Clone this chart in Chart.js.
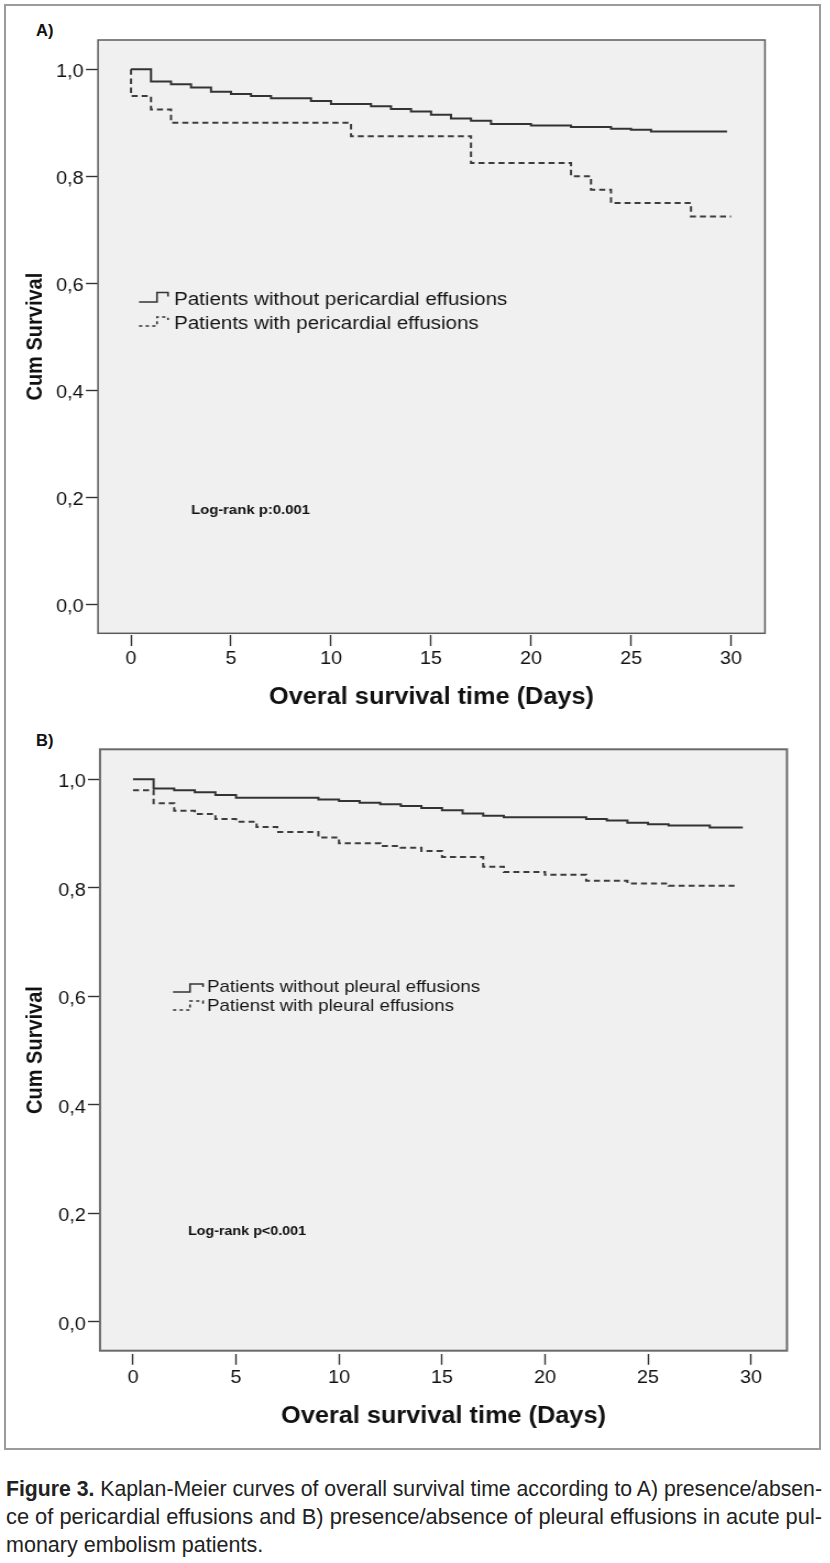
<!DOCTYPE html>
<html>
<head>
<meta charset="utf-8">
<script src="https://cdn.jsdelivr.net/npm/chart.js@4.4.1/dist/chart.umd.min.js"></script>
<style>
html,body{margin:0;padding:0;background:#fff;}
#page{position:relative;width:830px;height:1563px;overflow:hidden;background:#fff;font-family:"Liberation Sans",Arial,sans-serif;}
#frame{position:absolute;left:4px;top:4px;width:817px;height:1446px;border:2px solid #9b9b9b;box-sizing:border-box;}
.panel{position:absolute;left:0;width:755px;height:730px;transform:scaleX(1.1);transform-origin:0 0;}
.panel canvas{display:block;}
.tag{position:absolute;left:36px;font:bold 16.5px "Liberation Sans",Arial,sans-serif;line-height:18px;color:#111;}
#caption{position:absolute;left:6px;top:1475px;width:816px;font-family:"Liberation Sans",Arial,sans-serif;font-size:22px;line-height:28px;color:#222;}
.cl{display:block;white-space:nowrap;}
.cl span.in{display:inline-block;transform-origin:0 50%;}
</style>
</head>
<body>
<div id="page">
  <div id="frame"></div>
  <div class="tag" style="top:21px;">A)</div>
  <div class="tag" style="top:731px;">B)</div>
  <div class="panel" style="top:0px;"><canvas id="chartA" width="755" height="730"></canvas></div>
  <div class="panel" style="top:720px;"><canvas id="chartB" width="755" height="730"></canvas></div>
  <div id="caption">
    <div class="cl"><span class="in"><b>Figure 3.</b> Kaplan-Meier curves of overall survival time according to A) presence/absen-</span></div>
    <div class="cl"><span class="in">ce of pericardial effusions and B) presence/absence of pleural effusions in acute pul-</span></div>
    <div class="cl"><span class="in">monary embolism patients.</span></div>
  </div>
</div>
<script>
// ---------- data ----------
const xTickValues = [0, 5, 10, 15, 20, 25, 30];
const yTickValues = [0, 0.2, 0.4, 0.6, 0.8, 1.0];
const xAxisTitle = 'Overal survival time (Days)';
const yAxisTitle = 'Cum Survival';

// Panel A: pericardial effusions
const timesA_without = [0, 1, 2, 3, 4, 5, 6, 7, 9, 10, 12, 13, 14, 15, 16, 17, 18, 20, 22, 24, 25, 26, 29.8];
const survA_without  = [1.0, 0.977, 0.972, 0.966, 0.958, 0.954, 0.950, 0.946, 0.941, 0.935, 0.931, 0.926, 0.921, 0.915, 0.908, 0.904, 0.898, 0.895, 0.892, 0.889, 0.887, 0.884, 0.884];
const timesA_with = [0, 0, 1, 2, 11, 17, 22, 23, 24, 28, 30];
const survA_with  = [1.0, 0.95, 0.925, 0.90, 0.875, 0.825, 0.80, 0.775, 0.75, 0.725, 0.725];
const legendA = ['Patients without pericardial effusions', 'Patients with pericardial effusions'];
const logRankA = 'Log-rank p:0.001';

// Panel B: pleural effusions
const timesB_without = [0, 1, 2, 3, 4, 5, 9, 10, 11, 12, 13, 14, 15, 16, 17, 18, 22, 23, 24, 25, 26, 28, 29.6];
const survB_without  = [1.0, 0.983, 0.980, 0.976, 0.971, 0.966, 0.963, 0.960, 0.957, 0.954, 0.951, 0.947, 0.943, 0.937, 0.933, 0.930, 0.927, 0.924, 0.920, 0.917, 0.915, 0.911, 0.911];
const timesB_with = [0, 1, 2, 3, 4, 5, 6, 7, 9, 10, 12, 13, 14, 15, 17, 18, 20, 22, 24, 26, 29.2];
const survB_with  = [0.980, 0.956, 0.942, 0.936, 0.927, 0.922, 0.912, 0.903, 0.893, 0.882, 0.877, 0.874, 0.868, 0.857, 0.839, 0.829, 0.824, 0.813, 0.808, 0.804, 0.804];
const legendB = ['Patients without pleural effusions', 'Patienst with pleural effusions'];
const logRankB = 'Log-rank p<0.001';

// ---------- rendering ----------
const K = 1.1;              // horizontal stretch of the panels
const FAM = '"Liberation Sans", Arial, sans-serif';
const CW = 755, CH = 730;

const kmBox = {
  id: 'kmBox',
  beforeDraw(chart, args, o) {
    const {ctx, chartArea: a} = chart;
    ctx.save();
    ctx.fillStyle = o.bg;
    ctx.fillRect(a.left, a.top, a.right - a.left, a.bottom - a.top);
    ctx.restore();
  },
  afterDraw(chart, args, o) {
    const {ctx, chartArea: a} = chart;
    ctx.save();
    ctx.strokeStyle = o.border;
    ctx.lineWidth = o.borderWidth;
    ctx.strokeRect(a.left, a.top, a.right - a.left, a.bottom - a.top);
    o.legend.forEach(item => {
      ctx.beginPath();
      ctx.setLineDash(item.dash);
      ctx.lineWidth = 1.6;
      ctx.strokeStyle = '#333';
      item.glyph.forEach((p, i) => {
        const x = p[0] / K, y = p[1] - o.top;
        if (i) ctx.lineTo(x, y); else ctx.moveTo(x, y);
      });
      ctx.stroke();
      ctx.setLineDash([]);
      ctx.fillStyle = '#151515';
      ctx.font = item.font;
      ctx.textAlign = 'left';
      ctx.textBaseline = 'middle';
      ctx.fillText(item.text, item.x / K, item.y - o.top);
    });
    ctx.fillStyle = '#111';
    ctx.font = o.note.font;
    ctx.textAlign = 'left';
    ctx.textBaseline = 'middle';
    ctx.fillText(o.note.text, o.note.x / K, o.note.y - o.top);
    ctx.restore();
  }
};

function buildPanel(id, p) {
  const fmtY = v => Number(v).toFixed(1).replace('.', ',');
  return new Chart(document.getElementById(id), {
    type: 'line',
    data: {
      datasets: [
        { label: p.legend[0], data: p.t1.map((t, i) => ({x: t, y: p.s1[i]})),
          borderColor: '#333', borderWidth: 2, stepped: true, pointRadius: 0, fill: false },
        { label: p.legend[1], data: p.t2.map((t, i) => ({x: t, y: p.s2[i]})),
          borderColor: '#3c3c3c', borderWidth: 2, borderDash: [5.5, 3.6], stepped: true, pointRadius: 0, fill: false }
      ]
    },
    options: {
      responsive: false,
      animation: false,
      events: [],
      layout: { padding: { left: 0, top: p.areaTop - p.top, right: CW - p.areaRight / K, bottom: 0 } },
      plugins: {
        legend: { display: false },
        tooltip: { enabled: false },
        kmBox: {
          top: p.top, bg: '#f0f0f0', border: p.boxColor, borderWidth: p.boxWidth,
          legend: p.legendItems, note: p.note
        }
      },
      scales: {
        x: {
          type: 'linear', min: p.xmin, max: p.xmax,
          afterBuildTicks: s => { s.ticks = xTickValues.map(v => ({value: v})); },
          afterFit: s => { s.height = CH - (p.areaBottom - p.top); },
          grid: { display: true, drawOnChartArea: false, drawTicks: true, tickLength: p.tickLen,
                  tickBorderDash: [0, p.tickGap, p.tickLen - p.tickGap, 200], tickColor: '#333', tickWidth: 1.4 },
          border: { display: false },
          ticks: { padding: p.xLabelPad, color: '#111', font: { family: FAM, size: 18 },
                   maxRotation: 0, autoSkip: false, callback: v => String(v) },
          title: { display: true, text: xAxisTitle, color: '#111',
                   font: { family: FAM, size: 23, weight: 'bold' }, padding: { top: 0, bottom: p.xTitlePad } }
        },
        y: {
          type: 'linear', min: p.ymin, max: p.ymax,
          afterBuildTicks: s => { s.ticks = yTickValues.map(v => ({value: v})); },
          afterFit: s => { s.width = p.areaLeft / K; },
          grid: { display: true, drawOnChartArea: false, drawTicks: true, tickLength: 11, tickColor: '#333', tickWidth: 1.4 },
          border: { display: false },
          ticks: { padding: 2, labelOffset: 3, color: '#111', font: { family: FAM, size: 18 }, callback: fmtY },
          title: { display: true, text: yAxisTitle, color: '#111',
                   font: { family: FAM, size: 20, weight: 'bold' }, padding: { top: p.yTitlePad, bottom: 0 } }
        }
      }
    },
    plugins: [kmBox]
  });
}

buildPanel('chartA', {
  top: 0, areaLeft: 98, areaRight: 765, areaTop: 40, areaBottom: 633.3,
  xmin: -1.65, xmax: 31.7, ymin: -0.0542, ymax: 1.0548,
  tickLen: 13, tickGap: 2, xLabelPad: 2, xTitlePad: 19, yTitlePad: 20.5,
  boxColor: '#5c5c5c', boxWidth: 1.5,
  t1: timesA_without, s1: survA_without, t2: timesA_with, s2: survA_with, legend: legendA,
  legendItems: [
    { glyph: [[139, 302], [157, 302], [157, 292.5], [168, 292.5], [168, 296.5]], dash: [], text: legendA[0], x: 174, y: 299.5, font: '18.7px ' + FAM },
    { glyph: [[139, 326], [157, 326], [157, 317], [168, 317], [168, 320]], dash: [3, 3], text: legendA[1], x: 174, y: 323.5, font: '18.7px ' + FAM }
  ],
  note: { text: logRankA, x: 191, y: 510.5, font: 'bold 13.5px ' + FAM }
});

buildPanel('chartB', {
  top: 720, areaLeft: 100, areaRight: 787, areaTop: 749.3, areaBottom: 1350.7,
  xmin: -1.602, xmax: 31.748, ymin: -0.0529, ymax: 1.0553,
  tickLen: 14, tickGap: 3, xLabelPad: 2.5, xTitlePad: 19.5, yTitlePad: 20,
  boxColor: '#6a6a6a', boxWidth: 2,
  t1: timesB_without, s1: survB_without, t2: timesB_with, s2: survB_with, legend: legendB,
  legendItems: [
    { glyph: [[173, 992], [190, 992], [190, 984], [203, 984], [203, 987]], dash: [], text: legendB[0], x: 207, y: 987, font: '17px ' + FAM },
    { glyph: [[173, 1010], [190, 1010], [190, 1001], [203, 1001], [203, 1004]], dash: [3, 3], text: legendB[1], x: 207, y: 1006.5, font: '17px ' + FAM }
  ],
  note: { text: logRankB, x: 188, y: 1231, font: 'bold 13px ' + FAM }
});

// caption: condense each line horizontally so lines 1-2 span the full width
(function () {
  const spans = [...document.querySelectorAll('#caption .in')];
  const target = 816;
  const w0 = spans[0].getBoundingClientRect().width;
  const w1 = spans[1].getBoundingClientRect().width;
  const s0 = target / w0, s1 = target / w1;
  spans[0].style.transform = 'scaleX(' + s0 + ')';
  spans[1].style.transform = 'scaleX(' + s1 + ')';
  spans[2].style.transform = 'scaleX(' + ((s0 + s1) / 2) + ')';
})();
</script>
</body>
</html>
